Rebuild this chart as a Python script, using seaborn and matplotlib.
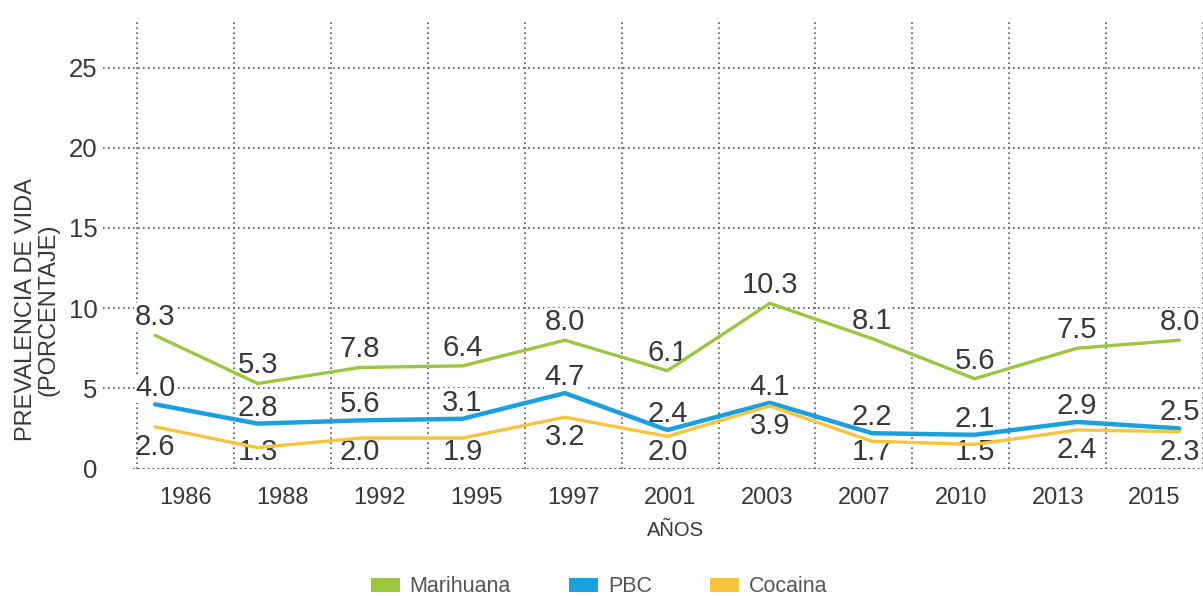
import matplotlib
matplotlib.use("Agg")
import matplotlib.pyplot as plt
import seaborn as sns
import pandas as pd
from matplotlib.patches import Patch

# ---------------- data ----------------
years = ["1986", "1988", "1992", "1995", "1997", "2001", "2003", "2007", "2010", "2013", "2015"]
marihuana = [8.3, 5.3, 6.3, 6.4, 8.0, 6.1, 10.3, 8.1, 5.6, 7.5, 8.0]
pbc = [4.0, 2.8, 3.0, 3.1, 4.7, 2.4, 4.1, 2.2, 2.1, 2.9, 2.5]
cocaina = [2.6, 1.3, 1.9, 1.9, 3.2, 2.0, 3.9, 1.7, 1.5, 2.4, 2.3]
marihuana_labels = ["8.3", "5.3", "7.8", "6.4", "8.0", "6.1", "10.3", "8.1", "5.6", "7.5", "8.0"]
pbc_labels = ["4.0", "2.8", "5.6", "3.1", "4.7", "2.4", "4.1", "2.2", "2.1", "2.9", "2.5"]
cocaina_labels = ["2.6", "1.3", "2.0", "1.9", "3.2", "2.0", "3.9", "1.7", "1.5", "2.4", "2.3"]
series_names = ["Marihuana", "PBC", "Cocaina"]
y_ticks = [0, 5, 10, 15, 20, 25]

colors = {"Marihuana": "#9cc63e", "PBC": "#1a9fdf", "Cocaina": "#f7c43c"}
widths = {"Marihuana": 2.4, "PBC": 3.2, "Cocaina": 2.4}

rows = []
for name, vals in zip(series_names, [marihuana, pbc, cocaina]):
    for i, v in enumerate(vals):
        rows.append({"pos": i, "valor": v, "droga": name})
df = pd.DataFrame(rows)

# ---------------- style ----------------
sns.set_theme(style="white")
plt.rcParams["font.family"] = ["Liberation Sans", "DejaVu Sans"]
text_col = "#383838"
grid_col = "#555555"

W, H = 1203, 596
fig = plt.figure(figsize=(W / 100, H / 100), dpi=100)
fig.patch.set_facecolor("white")
ax_left, ax_right, ax_top, ax_bottom = 103, 1203, 22, 468.5
ax = fig.add_axes([ax_left / W, 1 - ax_bottom / H, (ax_right - ax_left) / W, (ax_bottom - ax_top) / H])
ax2 = ax.twiny()

# layering: grid/year axis (ax2) below, data axis on top
ax2.set_zorder(0)
ax.set_zorder(1)
ax.patch.set_visible(False)
ax2.patch.set_visible(False)

# ---------------- data axis ----------------
for name in series_names:
    sub = df[df["droga"] == name]
    sns.lineplot(data=sub, x="pos", y="valor", color=colors[name], linewidth=widths[name],
                 ax=ax, legend=False, zorder=3)

ax.set_xlim(-0.51, 10.23)
ax.set_ylim(0, 27.84)
ax.set_xticks([])
ax.set_xlabel("")
ax.set_yticks(y_ticks)
ax.set_yticklabels([str(t) for t in y_ticks])
ax.tick_params(axis="y", length=0, pad=4, labelsize=18.5, labelcolor=text_col)
ax.grid(False)
for s in ax.spines.values():
    s.set_visible(False)

# horizontal dotted grid lines (5..25) and dotted baseline at 0
for t in y_ticks[1:]:
    ax.axhline(t, linestyle=(0, (1, 2)), color=grid_col, linewidth=1.2, zorder=0.5)
ax.axhline(0, xmin=(133 - ax_left) / (ax_right - ax_left), xmax=1,
           linestyle=(0, (1, 1.5)), color=grid_col, linewidth=1.4, zorder=0.5)

ax.set_ylabel("PREVALENCIA DE VIDA\n(PORCENTAJE)", fontsize=17, color=text_col,
              linespacing=1.05)
ax.yaxis.set_label_coords((60 - ax_left) / (ax_right - ax_left), (ax_bottom - 310) / (ax_bottom - ax_top))

# value labels
bbox = dict(facecolor="white", edgecolor="none", pad=0.5)
for i in range(len(years)):
    ax.annotate(marihuana_labels[i], (i, marihuana[i]), xytext=(0, 13), textcoords="offset points",
                ha="center", va="center", fontsize=21, color=text_col, bbox=bbox, zorder=2)
    ax.annotate(pbc_labels[i], (i, pbc[i]), xytext=(0, 11.5), textcoords="offset points",
                ha="center", va="center", fontsize=21, color=text_col, bbox=bbox, zorder=2)
    ax.text(i, max(cocaina[i] - 1.25, 1.0), cocaina_labels[i], ha="center", va="center",
            fontsize=21, color=text_col, zorder=2)

# ---------------- year axis (ticks + vertical grid) ----------------
ax2.set_xlim(-0.852, 10.44)
ax2.set_xticks(range(len(years)))
ax2.set_xticklabels(years)
ax2.set_xticks([i - 0.5 for i in range(len(years) + 1)], minor=True)
ax2.xaxis.set_ticks_position("bottom")
ax2.xaxis.set_label_position("bottom")
ax2.tick_params(axis="x", which="major", length=0, pad=13, labelsize=17, labelcolor=text_col)
ax2.tick_params(axis="x", which="minor", length=0)
ax2.xaxis.grid(True, which="minor", linestyle=(0, (1, 2)), color=grid_col, linewidth=1.2)
ax2.xaxis.grid(False, which="major")
for s in ax2.spines.values():
    s.set_visible(False)
ax2.set_xlabel("AÑOS", fontsize=14.5, color=text_col)
ax2.xaxis.set_label_coords((675 - ax_left) / (ax_right - ax_left), (ax_bottom - 521) / (ax_bottom - ax_top))

# ---------------- legend ----------------
handles = [Patch(facecolor=colors[n], edgecolor="none", label=n) for n in series_names]
fig.legend(handles=handles, loc="center", bbox_to_anchor=(599 / W, 1 - 587 / H), ncol=3,
           frameon=False, fontsize=15.5, labelcolor="#555555", handlelength=1.35,
           handleheight=0.65, handletextpad=0.45, columnspacing=2.7)

fig.savefig("out.png", dpi=100, facecolor="white")
